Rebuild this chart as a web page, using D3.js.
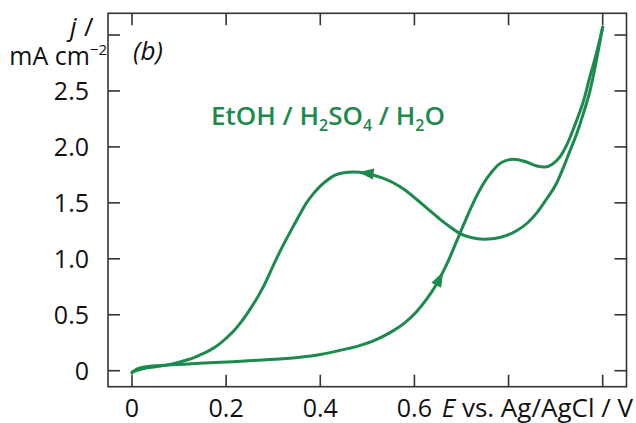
<!DOCTYPE html>
<html><head><meta charset="utf-8">
<script src="https://cdn.jsdelivr.net/npm/d3@7"></script>
<style>
body{margin:0;background:#fff;}
svg text{font-family:"Open Sans",sans-serif;fill:#111;}
</style></head>
<body><svg id="c" width="636" height="423"></svg>
<script>
// ---- data (E in V vs Ag/AgCl, j in mA cm^-2) ----
const forwardE = [0, 0.01, 0.03, 0.074, 0.144, 0.215, 0.285, 0.357, 0.40, 0.44, 0.48, 0.52, 0.55, 0.58, 0.605, 0.626, 0.645, 0.661, 0.676, 0.69, 0.705, 0.725, 0.745, 0.765, 0.785, 0.81, 0.835, 0.86, 0.877, 0.893, 0.909, 0.925, 0.945, 0.96, 0.973, 0.987, 1.0];
const forwardJ = [-0.02, 0.015, 0.035, 0.05, 0.066, 0.08, 0.098, 0.12, 0.145, 0.18, 0.22, 0.28, 0.345, 0.43, 0.53, 0.64, 0.76, 0.885, 1.02, 1.16, 1.31, 1.5, 1.66, 1.78, 1.86, 1.89, 1.87, 1.83, 1.82, 1.845, 1.91, 2.03, 2.24, 2.42, 2.63, 2.84, 3.07];
const reverseE = [1.0, 0.987, 0.973, 0.959, 0.945, 0.93, 0.916, 0.902, 0.88, 0.86, 0.84, 0.817, 0.79, 0.77, 0.748, 0.72, 0.697, 0.676, 0.654, 0.63, 0.605, 0.58, 0.555, 0.53, 0.499, 0.47, 0.45, 0.43, 0.414, 0.40, 0.385, 0.37, 0.357, 0.34, 0.321, 0.30, 0.286, 0.27, 0.251, 0.233, 0.215, 0.2, 0.18, 0.16, 0.144, 0.12, 0.1, 0.074, 0.05, 0.025, 0];
const reverseJ = [3.07, 2.78, 2.5, 2.3, 2.12, 1.96, 1.81, 1.675, 1.53, 1.41, 1.32, 1.25, 1.20, 1.182, 1.175, 1.19, 1.225, 1.285, 1.355, 1.44, 1.53, 1.615, 1.68, 1.725, 1.762, 1.775, 1.77, 1.745, 1.70, 1.65, 1.58, 1.495, 1.40, 1.27, 1.12, 0.94, 0.81, 0.68, 0.55, 0.44, 0.35, 0.29, 0.22, 0.17, 0.14, 0.10, 0.075, 0.05, 0.035, 0.02, -0.01];
const xTicks = [0, 0.2, 0.4, 0.6, 0.8, 1.0];
const xTickLabels = ["0", "0.2", "0.4", "0.6"];
const yTicks = [0, 0.5, 1.0, 1.5, 2.0, 2.5, 3.0];
const yTickLabels = ["0", "0.5", "1.0", "1.5", "2.0", "2.5"];
const arrowE = [0.661, 0.481];   // arrow tip positions on forward / reverse scans

const green = "#1c8a4c";
const svg = d3.select("#c");
const L = 108, R = 626.5, T = 13.3, B = 386.7;
const x = d3.scaleLinear().domain([-0.051, 1.0506]).range([L, R]);
const y = d3.scaleLinear().domain([-0.143, 3.194]).range([B, T]);

const fwd = forwardE.map((e, i) => [e, forwardJ[i]]);
const rev = reverseE.map((e, i) => [e, reverseJ[i]]).reverse();
const line = d3.line().x(d => x(d[0])).y(d => y(d[1])).curve(d3.curveMonotoneX);

// curves
const paths = [fwd, rev].map(data => svg.append("path").attr("d", line(data))
  .attr("fill", "none").attr("stroke", green).attr("stroke-width", 3).attr("stroke-linecap", "round"));

// arrows
function arrowAt(pathSel, E, sign) {
  const node = pathSel.node(), len = node.getTotalLength(), tx = x(E);
  let best = 0, bd = 1e9;
  for (let s = 0; s <= len; s += 0.5) {
    const p = node.getPointAtLength(s);
    const d = Math.abs(p.x - tx);
    if (d < bd) { bd = d; best = s; }
  }
  const p = node.getPointAtLength(best), q = node.getPointAtLength(Math.max(0, Math.min(len, best - 3 * sign)));
  const ang = Math.atan2(p.y - q.y, p.x - q.x);
  const l = 15, w = 5.5;
  const pts = [[0, 0], [-l, -w], [-l, w]].map(([a, b]) =>
    [p.x + a * Math.cos(ang) - b * Math.sin(ang), p.y + a * Math.sin(ang) + b * Math.cos(ang)]);
  svg.append("polygon").attr("points", pts.map(d => d.join(",")).join(" ")).attr("fill", green);
}
arrowAt(paths[0], arrowE[0], 1);
arrowAt(paths[1], arrowE[1], -1);

// frame
const axisColor = "#333";
svg.append("rect").attr("x", L).attr("y", T).attr("width", R - L).attr("height", B - T)
  .attr("fill", "none").attr("stroke", axisColor).attr("stroke-width", 1.6);
const tl = 12;
const tg = svg.append("g").attr("stroke", axisColor).attr("stroke-width", 1.6);
xTicks.forEach(t => {
  tg.append("line").attr("x1", x(t)).attr("x2", x(t)).attr("y1", B).attr("y2", B - tl);
  tg.append("line").attr("x1", x(t)).attr("x2", x(t)).attr("y1", T).attr("y2", T + tl);
});
yTicks.forEach(t => {
  tg.append("line").attr("y1", y(t)).attr("y2", y(t)).attr("x1", L).attr("x2", L + tl);
  tg.append("line").attr("y1", y(t)).attr("y2", y(t)).attr("x1", R).attr("x2", R - tl);
});

// tick labels
const fs = 25;
xTickLabels.forEach((lab, i) => {
  svg.append("text").attr("x", x(xTicks[i])).attr("y", 417).attr("text-anchor", "middle")
    .attr("font-size", fs).text(lab);
});
yTickLabels.forEach((lab, i) => {
  svg.append("text").attr("x", 89).attr("y", y(yTicks[i]) + 9).attr("text-anchor", "end")
    .attr("font-size", fs).text(lab);
});

// axis titles
const xt = svg.append("text").attr("x", 633).attr("y", 417).attr("text-anchor", "end").attr("font-size", 26);
xt.append("tspan").attr("font-style", "italic").text("E");
xt.append("tspan").text(" vs. Ag/AgCl / V");

svg.append("text").attr("x", 70).attr("y", 36).attr("font-size", 26).attr("font-style", "italic").text("j");
svg.append("text").attr("x", 84).attr("y", 36).attr("font-size", 26).text("/");
const yt2 = svg.append("text").attr("x", 107).attr("y", 65).attr("text-anchor", "end").attr("font-size", 25);
yt2.append("tspan").text("mA cm");
yt2.append("tspan").attr("font-size", 15).attr("dy", -10).text("−2");

svg.append("text").attr("x", 133).attr("y", 60).attr("font-size", 26).attr("font-style", "italic").text("(b)");

// legend label
const lg = svg.append("text").attr("x", 211).attr("y", 125).attr("font-size", 26)
  .attr("font-weight", 600).style("fill", green);
lg.append("tspan").text("EtOH / H");
lg.append("tspan").attr("font-size", 16).attr("dy", 6).text("2");
lg.append("tspan").attr("dy", -6).text("SO");
lg.append("tspan").attr("font-size", 16).attr("dy", 6).text("4");
lg.append("tspan").attr("dy", -6).text(" / H");
lg.append("tspan").attr("font-size", 16).attr("dy", 6).text("2");
lg.append("tspan").attr("dy", -6).text("O");
</script></body></html>
